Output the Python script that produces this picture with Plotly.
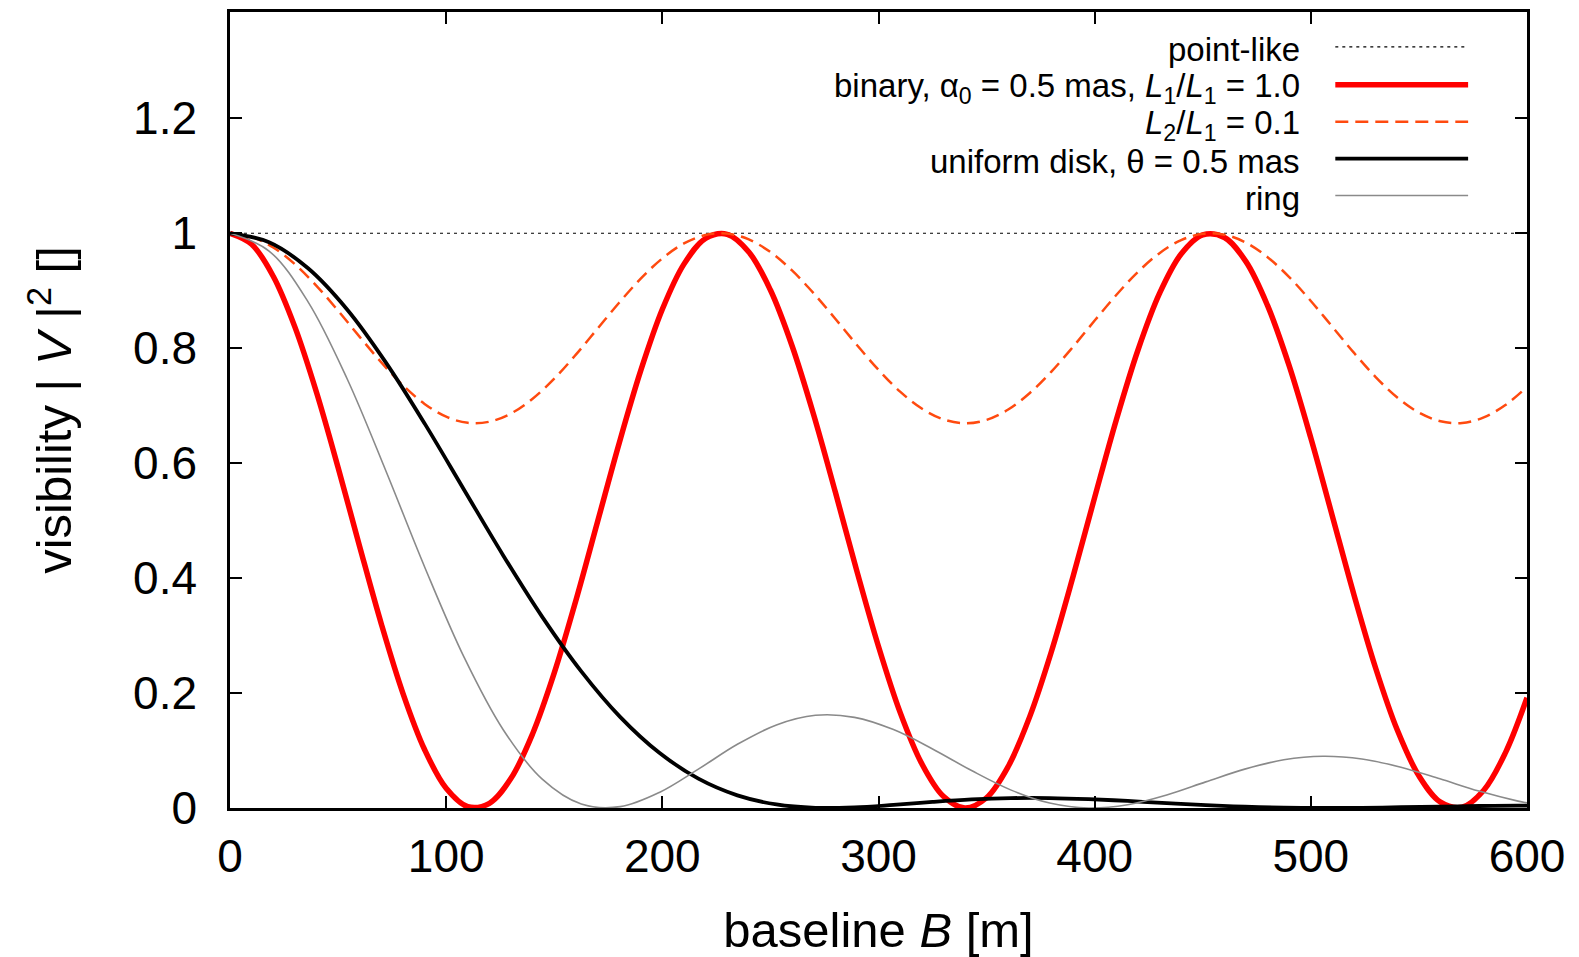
import plotly.graph_objects as go

# ---- data ----
# binary (equal components) and binary with L2/L1 = 0.1, sampled every 10 m
B_bin = list(range(0, 601, 10))
V2_binary = [1.0000, 0.9810, 0.9252, 0.8371, 0.7234, 0.5926, 0.4547, 0.3203, 0.1996, 0.1018,
             0.0343, 0.0023, 0.0082, 0.0516, 0.1293, 0.2350, 0.3610, 0.4976, 0.6344, 0.7609,
             0.8677, 0.9463, 0.9909, 0.9982, 0.9675, 0.9012, 0.8043, 0.6842, 0.5501, 0.4122,
             0.2810, 0.1664, 0.0773, 0.0204, 0.0000, 0.0178, 0.0722, 0.1594, 0.2723, 0.4027,
             0.5405, 0.6752, 0.7965, 0.8953, 0.9639, 0.9972, 0.9927, 0.9506, 0.8740, 0.7692,
             0.6437, 0.5073, 0.3703, 0.2432, 0.1356, 0.0559, 0.0101, 0.0015, 0.0309, 0.0960,
             0.1918]
V2_binary_01 = [1.0000, 0.9937, 0.9753, 0.9462, 0.9086, 0.8653, 0.8197, 0.7753, 0.7354, 0.7031,
                0.6808, 0.6702, 0.6721, 0.6865, 0.7122, 0.7471, 0.7888, 0.8339, 0.8791, 0.9210,
                0.9563, 0.9823, 0.9970, 0.9994, 0.9893, 0.9673, 0.9353, 0.8956, 0.8513, 0.8057,
                0.7623, 0.7244, 0.6950, 0.6762, 0.6694, 0.6753, 0.6933, 0.7221, 0.7594, 0.8025,
                0.8481, 0.8926, 0.9327, 0.9654, 0.9881, 0.9991, 0.9976, 0.9837, 0.9584, 0.9237,
                0.8822, 0.8371, 0.7918, 0.7498, 0.7142, 0.6879, 0.6728, 0.6699, 0.6796, 0.7012,
                0.7328]

# uniform disk and ring
B_disk = [0, 18.06, 36.11, 54.17, 72.22, 90.28, 108.33, 126.39, 144.44, 162.5,
          180.56, 198.61, 216.67, 234.72, 252.78, 270.83, 288.89, 306.94, 325.0, 343.06,
          361.11, 379.17, 397.22, 415.28, 433.33, 451.39, 469.44, 487.5, 505.56, 523.61,
          541.67, 559.72, 577.78, 595.83, 600]
V2_disk = [1.0, 0.98449, 0.93910, 0.86749, 0.77458, 0.66748, 0.55341, 0.43953, 0.33261, 0.23773,
           0.15815, 0.09602, 0.05109, 0.02202, 0.00616, 0.00031, 0.00109, 0.00537, 0.01055, 0.01484,
           0.01717, 0.01729, 0.01542, 0.01224, 0.00851, 0.00499, 0.00224, 0.00057, 0.0, 0.00036,
           0.00130, 0.00245, 0.00344, 0.00404, 0.00412]
V2_ring = [1.0, 0.96912, 0.88073, 0.74692, 0.58553, 0.41720, 0.26197, 0.13619, 0.05013, 0.00683,
           0.00234, 0.02699, 0.06763, 0.11083, 0.14450, 0.16126, 0.15773, 0.13640, 0.10275, 0.06511,
           0.03154, 0.00866, 0.00005, 0.00578, 0.02269, 0.04546, 0.06765, 0.08387, 0.09005, 0.08534,
           0.07094, 0.05077, 0.02946, 0.01193, 0.00883]

B_point = [0, 600]
V2_point = [1, 1]

legend_labels = [
    "point-like",
    "binary, α<sub>0</sub> = 0.5 mas, <i>L</i><sub>1</sub>/<i>L</i><sub>1</sub> = 1.0",
    "<i>L</i><sub>2</sub>/<i>L</i><sub>1</sub> = 0.1",
    "uniform disk, θ = 0.5 mas",
    "ring",
]

FONT = "Liberation Sans, Arial, Helvetica, sans-serif"

styles = [
    dict(color="black", width=1.2, dash="3px,4px"),
    dict(color="#ff0000", width=5.5),
    dict(color="#ff4a0f", width=2.5, dash="13px,7px"),
    dict(color="black", width=3.8),
    dict(color="#8a8a8a", width=1.6),
]

fig = go.Figure()
series = [(B_point, V2_point), (B_bin, V2_binary), (B_bin, V2_binary_01),
          (B_disk, V2_disk), (B_disk, V2_ring)]
for (xs, ys), st, name in zip(series, styles, legend_labels):
    fig.add_trace(go.Scatter(x=xs, y=ys, mode="lines", name=name,
                             line=dict(shape="spline", smoothing=1.0, **st),
                             showlegend=False, cliponaxis=True))

# manual gnuplot-style legend (text right-aligned, sample line to the right)
row_y = [0.9561, 0.9085, 0.8622, 0.8158, 0.7694]
for yy, st, name in zip(row_y, styles, legend_labels):
    fig.add_shape(type="line", xref="paper", yref="paper", x0=0.8522, x1=0.9546, y0=yy, y1=yy,
                  line=dict(color=st["color"], width=st["width"], dash=st.get("dash", "solid")))
    fig.add_annotation(xref="paper", yref="paper", x=0.8268, y=yy, text=name, showarrow=False,
                       xanchor="right", yanchor="middle", yshift=-3,
                       font=dict(family=FONT, size=33, color="black"))

axis_common = dict(showgrid=False, zeroline=False, showline=True, linecolor="black", linewidth=2.5,
                   mirror="ticks", ticks="inside", ticklen=12, tickwidth=2, tickcolor="black",
                   tickfont=dict(family=FONT, size=46, color="black"))

fig.update_xaxes(range=[0, 600], tick0=0, dtick=100, ticklabelstandoff=6,
                 title=dict(text="baseline <i>B</i> [m]", font=dict(family=FONT, size=49, color="black"),
                            standoff=35),
                 **axis_common)
fig.update_yaxes(range=[0, 1.385], tick0=0, dtick=0.2, ticklabelstandoff=21,
                 title=dict(text="visibility | <i>V</i> |<sup>2</sup> []",
                            font=dict(family=FONT, size=49, color="black"), standoff=46),
                 **axis_common)

# the page body adds an 8 px offset, so the figure is 8 px smaller than the window
fig.update_layout(width=1571, height=949, autosize=False,
                  margin=dict(l=222, r=52, t=4, b=149, autoexpand=False),
                  plot_bgcolor="white", paper_bgcolor="white",
                  font=dict(family=FONT, color="black"))

fig.write_html("out.html")
